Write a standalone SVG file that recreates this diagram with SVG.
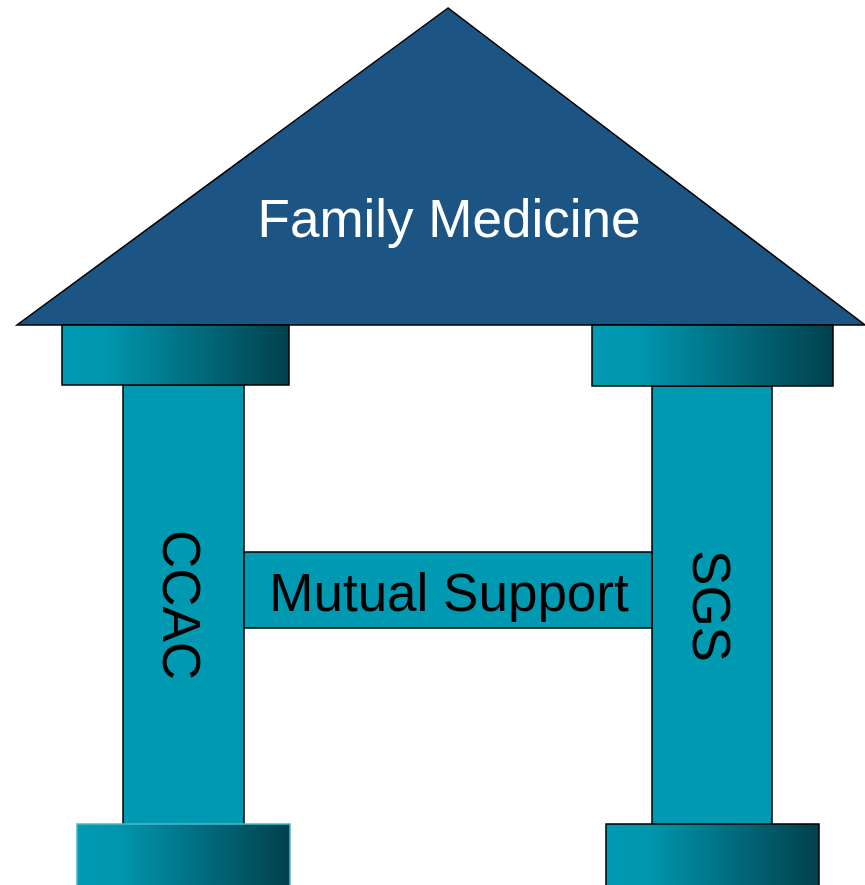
<svg xmlns="http://www.w3.org/2000/svg" width="865" height="885" viewBox="0 0 865 885">
  <defs>
    <linearGradient id="capShade" x1="0" y1="0" x2="1" y2="0">
      <stop offset="0" stop-color="#009AB2"/>
      <stop offset="0.2" stop-color="#0096AD"/>
      <stop offset="1" stop-color="#02404C"/>
    </linearGradient>
    <style>
      .roof { fill: #1C5483; stroke: #000; stroke-width: 1.5; stroke-linejoin: miter; }
      .cap { fill: url(#capShade); stroke: #000; stroke-width: 1.5; }
      .capLight { fill: url(#capShade); stroke: #4FB8C9; stroke-width: 1.5; }
      .shaft { fill: #0099B2; stroke: #000; stroke-width: 1.5; }
      .lbl { font-family: "Liberation Sans", Arial, sans-serif; font-size: 53px; text-anchor: middle; }
    </style>
  </defs>

  <!-- roof -->
  <g id="family-medicine">
    <polygon class="roof" points="448,8 17,325 865,325"/>
    <text class="lbl" x="449" y="237" fill="#FFFFFF">Family Medicine</text>
  </g>

  <!-- left pillar -->
  <g id="ccac">
    <rect class="shaft" x="123" y="385" width="121" height="440"/>
    <rect class="cap" x="62" y="325" width="227" height="60"/>
    <rect class="capLight" x="77" y="824" width="213" height="62"/>
    <text class="lbl" fill="#000" transform="translate(163,605) rotate(90)">CCAC</text>
  </g>

  <!-- right pillar -->
  <g id="sgs">
    <rect class="shaft" x="652" y="386" width="120" height="439"/>
    <rect class="cap" x="592" y="325" width="241" height="61"/>
    <rect class="cap" x="606" y="824" width="213" height="62"/>
    <text class="lbl" fill="#000" transform="translate(693,606) rotate(90)">SGS</text>
  </g>

  <!-- cross beam -->
  <g id="mutual-support">
    <rect class="shaft" x="244" y="552" width="408" height="76"/>
    <text class="lbl" x="449" y="611" fill="#000">Mutual Support</text>
  </g>

  <g id="connectors"/>
</svg>
